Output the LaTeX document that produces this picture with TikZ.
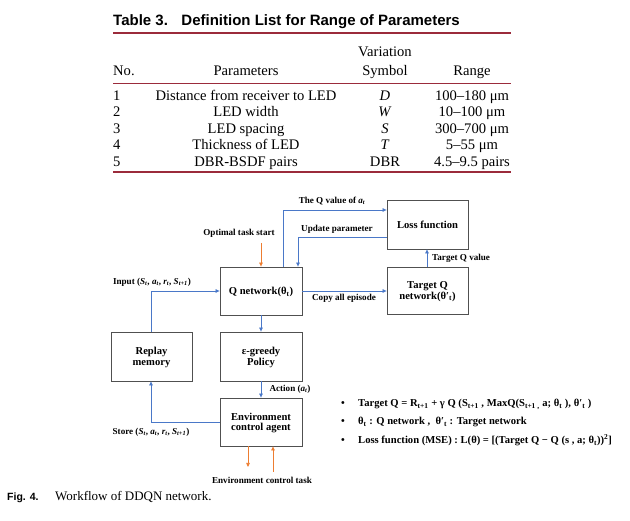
\documentclass[tikz,border=0pt]{standalone}
\usepackage{fontspec}
\setmainfont{Liberation Serif}
\newfontfamily\arialf{Liberation Sans}
\usetikzlibrary{arrows.meta,calc}
\definecolor{rulered}{HTML}{9B2B3B}
\definecolor{blueC}{HTML}{4A78C8}
\definecolor{orangeC}{HTML}{ED7D31}
\definecolor{boxgray}{HTML}{505050}
\newcommand{\fs}[1]{\fontsize{#1}{#1}\selectfont}
\tikzset{
  boxn/.style={draw=boxgray, line width=0.8pt, align=center, inner sep=1pt,
    font=\bfseries\fs{10.6}, text depth=0pt},
  blu/.style={draw=blueC, line width=0.7pt, -{Triangle[length=4pt,width=3.5pt]}},
  org/.style={draw=orangeC, line width=0.7pt, -{Triangle[length=4pt,width=3.5pt]}},
  lbl/.style={font=\bfseries\fs{9.1}, inner sep=0pt},
  tb/.style={font=\fs{14.6}, inner sep=0pt, anchor=base},
  tbl/.style={font=\fs{14.6}, inner sep=0pt, anchor=base west},
  eq/.style={font=\bfseries\fs{10.6}, inner sep=0pt, anchor=base west}
}
\begin{document}
\begin{tikzpicture}[x=1pt,y=-1pt]
\useasboundingbox (0,0) rectangle (630,521);
% ---------- table ----------
\node[inner sep=0pt, anchor=base west, font=\arialf\bfseries\fs{15}] (ttl) at (113,26) {Table 3.\hspace{0.9em}Definition List for Range of Parameters};
\draw[rulered, line width=1.2pt] (113,33) -- (511,33);
\node[tb] (hv) at (385,56.5) {Variation};
\node[tbl] (hno) at (113,76) {No.};
\node[tb] (hpar) at (246,76) {Parameters};
\node[tb] (hsym) at (385,76) {Symbol};
\node[tb] (hrng) at (472,76) {Range};
\draw[rulered, line width=0.8pt] (113,83) -- (511,83);
\node[tbl] (n1) at (113,100.5) {1};
\node[tb] (p1) at (246,100.5) {Distance from receiver to LED};
\node[tb] (s1) at (385,100.5) {\textit{D}};
\node[tb] (r1) at (472,100.5) {100–180 μm};
\node[tbl] (n2) at (113,117) {2};
\node[tb] (p2) at (246,117) {LED width};
\node[tb] (s2) at (385,117) {\textit{W}};
\node[tb] (r2) at (472,117) {10–100 μm};
\node[tbl] (n3) at (113,133.5) {3};
\node[tb] (p3) at (246,133.5) {LED spacing};
\node[tb] (s3) at (385,133.5) {\textit{S}};
\node[tb] (r3) at (472,133.5) {300–700 μm};
\node[tbl] (n4) at (113,150) {4};
\node[tb] (p4) at (246,150) {Thickness of LED};
\node[tb] (s4) at (385,150) {\textit{T}};
\node[tb] (r4) at (472,150) {5–55 μm};
\node[tbl] (n5) at (113,166.5) {5};
\node[tb] (p5) at (246,166.5) {DBR-BSDF pairs};
\node[tb] (s5) at (385,166.5) {DBR};
\node[tb] (r5) at (472,166.5) {4.5–9.5 pairs};
\draw[rulered, line width=2pt] (113,172.5) -- (511,172.5);
% ---------- diagram boxes ----------
\node[boxn, minimum width=82pt, minimum height=48pt] (Q) at (261,291) {Q network(θ\textsubscript{t})};
\node[boxn, minimum width=81pt, minimum height=49pt] (Loss) at (427.5,224.5) {Loss function};
\node[boxn, minimum width=81pt, minimum height=47pt] (Target) at (427.5,290.5) {Target Q\\network(θ′\textsubscript{t})};
\node[boxn, minimum width=81pt, minimum height=49pt] (Replay) at (151.5,356.5) {Replay\\memory};
\node[boxn, minimum width=82pt, minimum height=49pt] (Greedy) at (261,356.5) {ε-greedy\\Policy};
\node[boxn, minimum width=82pt, minimum height=48pt] (Env) at (261,422) {Environment\\control agent};
% ---------- connectors ----------
\coordinate (ots) at (261,243);
\draw[org] (ots) -- (Q.north);
\coordinate (qv) at (283,210);
\draw[blu] (Q.north -| qv) -- (qv) -- (qv -| Loss.west);
\coordinate (upd) at (298,237);
\draw[blu] (upd -| Loss.west) -- (upd) -- (upd |- Q.north);
\coordinate (inp) at (151,291);
\draw[blu] (Replay.north -| inp) -- (inp) -- (inp -| Q.west);
\draw[blu] (Q.east) -- (Q.east -| Target.west);
\coordinate (tv) at (427,258);
\draw[blu] (Target.north -| tv) -- (Loss.south -| tv);
\draw[blu] (Q.south) -- (Greedy.north);
\draw[blu] (Greedy.south) -- (Env.north);
\coordinate (sto) at (151,422);
\draw[blu] (Env.west |- sto) -- (sto) -- (sto |- Replay.south);
\coordinate (ed) at (248,467);
\draw[org] (Env.south -| ed) -- (ed);
\coordinate (eu) at (273,472);
\draw[org] (eu) -- (eu |- Env.south);
% ---------- labels ----------
\node[lbl] (l1) at (239,233.5) {Optimal task start};
\node[lbl] (l2) at (332,201.5) {The Q value of \textit{a\textsubscript{t}}};
\node[lbl] (l3) at (337,229.5) {Update parameter};
\node[lbl] (l4) at (152,282.5) {Input (\textit{S\textsubscript{t}}, \textit{a\textsubscript{t}}, \textit{r\textsubscript{t}}, \textit{S\textsubscript{t+1}})};
\node[lbl] (l5) at (344,298.5) {Copy all episode};
\node[lbl, anchor=west] (l6) at (432,258) {Target Q value};
\node[lbl] (l7) at (290,389.5) {Action (\textit{a\textsubscript{t}})};
\node[lbl] (l8) at (151,432.5) {Store (\textit{S\textsubscript{t}}, \textit{a\textsubscript{t}}, \textit{r\textsubscript{t}}, \textit{S\textsubscript{t+1}})};
\node[lbl] (l9) at (262,480.5) {Environment control task};
% ---------- equations ----------
\node[eq] (b1) at (341,407) {•};
\node[eq] (e1) at (358,407) {Target Q = R\textsubscript{t+1} + γ Q (S\textsubscript{t+1} , MaxQ(S\textsubscript{t+1 ,} a; θ\textsubscript{t} ), θ′\textsubscript{t} )};
\node[eq] (b2) at (341,425) {•};
\node[eq] (e2) at (358,425) {θ\textsubscript{t} : Q network ,\ \ θ′\textsubscript{t} : Target network};
\node[eq] (b3) at (341,443.5) {•};
\node[eq] (e3) at (358,443.5) {Loss function (MSE) : L(θ) = [(Target Q − Q (s , a; θ\textsubscript{t}))\textsuperscript{2}]};
% ---------- caption ----------
\node[inner sep=0pt, anchor=base west, font=\arialf\bfseries\fs{10.5}] (cf) at (7,501) {Fig. 4.};
\node[inner sep=0pt, anchor=base west, font=\fs{13}] (ct) at (55,501) {Workflow of DDQN network.};
\end{tikzpicture}
\end{document}
